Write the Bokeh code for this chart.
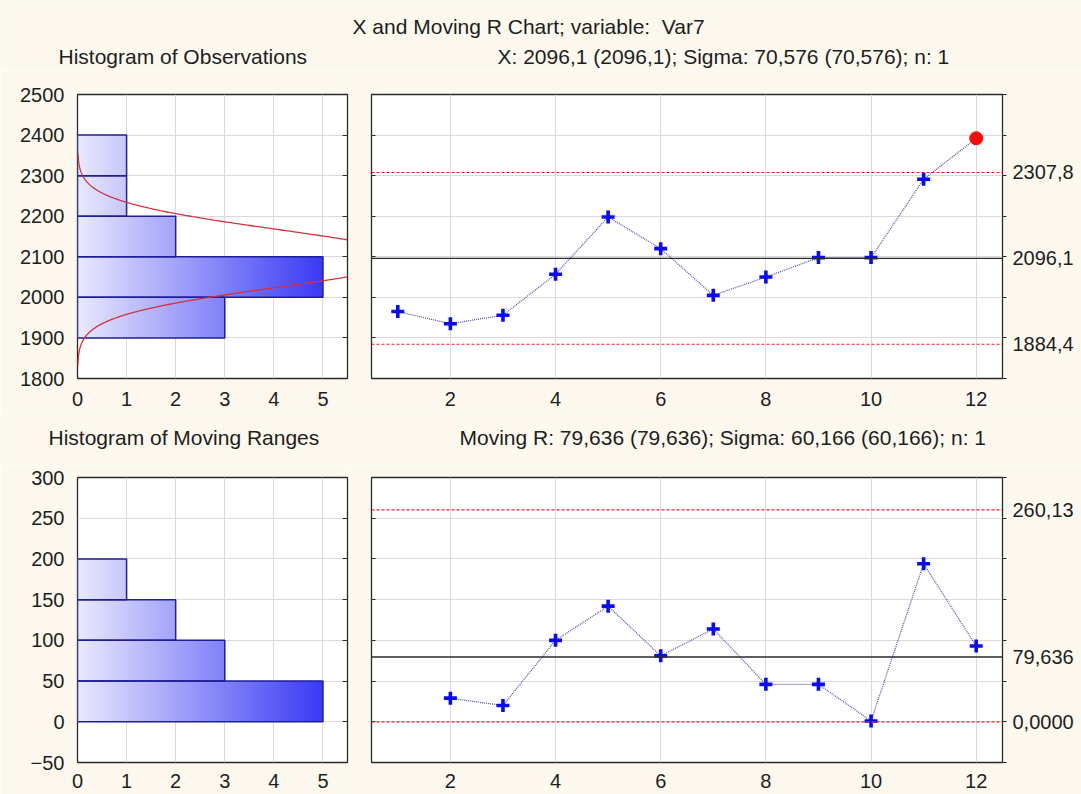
import math
from bokeh.plotting import figure
from bokeh.models import Range1d, FixedTicker, LinearAxis, Span, ColumnDataSource
from bokeh.layouts import column, row
from bokeh.core.properties import value
from bokeh.embed import file_html
from bokeh.resources import INLINE

# ---------------- data ----------------
main_title = "X and Moving R Chart; variable:  Var7"
obs_hist_title = "Histogram of Observations"
obs_chart_title = "X: 2096,1 (2096,1); Sigma: 70,576 (70,576); n: 1"
mr_hist_title = "Histogram of Moving Ranges"
mr_chart_title = "Moving R: 79,636 (79,636); Sigma: 60,166 (60,166); n: 1"

obs_index = [1, 2, 3, 4, 5, 6, 7, 8, 9, 10, 11, 12]
obs_values = [1965, 1935, 1956, 2057, 2198, 2120, 2005, 2050, 2098, 2098, 2291, 2392]

mr_index = [2, 3, 4, 5, 6, 7, 8, 9, 10, 11, 12]
mr_values = [29, 20, 100, 142, 81, 114, 46, 46, 1, 194, 93]

obs_bin_edges = [1900, 2000, 2100, 2200, 2300, 2400]
obs_bin_counts = [3, 5, 2, 1, 1]
mr_bin_edges = [0, 50, 100, 150, 200]
mr_bin_counts = [5, 3, 2, 1]

x_mean = 2096.1
x_sigma = 70.576
x_limits = [1884.4, 2096.1, 2307.8]          # LCL, CL, UCL
x_limit_labels = ["1884,4", "2096,1", "2307,8"]
mr_limits = [0.0, 79.636, 260.13]
mr_limit_labels = ["0,0000", "79,636", "260,13"]

obs_y_ticks = [1800, 1900, 2000, 2100, 2200, 2300, 2400, 2500]
mr_y_ticks = [-50, 0, 50, 100, 150, 200, 250, 300]
hist_x_ticks = [0, 1, 2, 3, 4, 5]
chart_x_ticks = [2, 4, 6, 8, 10, 12]

# ---------------- style ----------------
W = 1081
BG = "#fcf8ee"
FRAME = "#2a2a2a"
GRID = "#dadada"
TXT = "#1e1e1e"
FONT = "Liberation Sans"


def grad(x):
    t = max(0.0, min(x / 5.0, 1.0))
    c0 = (233, 233, 252)
    c1 = (58, 58, 245)
    r, g, b = [round(a + (b_ - a) * t) for a, b_ in zip(c0, c1)]
    return "#%02x%02x%02x" % (r, g, b)


def style_axis(ax, size="20px", standoff=8):
    ax.axis_line_color = None
    ax.minor_tick_line_color = None
    ax.major_label_text_font = FONT
    ax.major_label_text_font_size = size
    ax.major_label_text_color = TXT
    ax.major_label_standoff = standoff


def tick_axis(ticks, tick_in, tick_out):
    """An axis that only draws tick marks (no labels)."""
    return LinearAxis(ticker=FixedTicker(ticks=ticks), major_label_text_font_size="0px",
                      major_label_text_color=None, major_label_standoff=0,
                      major_tick_in=tick_in, major_tick_out=tick_out,
                      axis_line_color=None, minor_tick_line_color=None,
                      major_tick_line_color=FRAME)


def header(height, texts):
    """A strip of titles; coordinates are pixels inside the strip."""
    p = figure(width=W, height=height, x_range=Range1d(0, W), y_range=Range1d(height, 0),
               x_axis_location=None, y_axis_location=None, min_border=0,
               output_backend="svg", toolbar_location=None, title=None,
               background_fill_color=BG, border_fill_color=BG, outline_line_color=None)
    p.grid.visible = False
    for text, x, y in texts:
        p.text(x=[x], y=[y], text=[text.replace("  ", "\u00a0 ")],
               text_font=value(FONT), text_font_size=value("21px"), text_color=TXT,
               text_align="left", text_baseline="alphabetic")
    return p


def base_fig(fw, fh, xr, yr, left, right, top, bottom, y_axis=True):
    p = figure(frame_width=fw, frame_height=fh, x_range=Range1d(*xr), y_range=Range1d(*yr),
               min_border_left=left, min_border_right=right, min_border_top=top,
               min_border_bottom=bottom, output_backend="svg", toolbar_location=None,
               title=None, background_fill_color="white", border_fill_color=BG,
               outline_line_color=FRAME, outline_line_width=1.3,
               y_axis_location="left" if y_axis else None)
    p.grid.grid_line_color = GRID
    p.grid.grid_line_width = 1
    return p


def make_hist(edges, counts, yr, yticks, fh, top, bottom, standoff, curve=None):
    p = base_fig(270, fh, (0, 5.5), yr, 77, 2, top, bottom)
    p.xgrid.ticker = FixedTicker(ticks=hist_x_ticks[1:])
    p.ygrid.ticker = FixedTicker(ticks=yticks)

    # gradient-filled bars, drawn as thin slices
    step = 0.04
    L, R, B, T, C = [], [], [], [], []
    for i, c in enumerate(counts):
        n = int(round(c / step))
        for k in range(n):
            L.append(k * step)
            R.append(min((k + 1.6) * step, c))
            B.append(edges[i])
            T.append(edges[i + 1])
            C.append(grad((k + 0.5) * step))
    src = ColumnDataSource(dict(left=L, right=R, bottom=B, top=T, color=C))
    p.quad(left="left", right="right", bottom="bottom", top="top", fill_color="color",
           line_color=None, source=src)
    p.quad(left=[0] * len(counts), right=counts, bottom=edges[:-1], top=edges[1:],
           fill_color=None, line_color="#1e1e96", line_width=1.5)

    if curve is not None:
        cy, cx = curve
        p.line(cx, cy, line_color="#d2303e", line_width=1.3)

    ax = p.xaxis[0]
    ax.ticker = FixedTicker(ticks=hist_x_ticks)
    style_axis(ax, standoff=standoff)
    ax.major_tick_line_color = None
    ay = p.yaxis[0]
    ay.ticker = FixedTicker(ticks=yticks)
    style_axis(ay, standoff=7)
    ay.major_tick_line_color = None

    p.add_layout(tick_axis(yticks, 5, 0), "right")
    return p


def make_chart(xs, ys, limits, limit_labels, yr, yticks, fh, top, bottom, standoff):
    p = base_fig(631, fh, (0.5, 12.5), yr, 22, 79, top, bottom, y_axis=False)
    p.xgrid.ticker = FixedTicker(ticks=chart_x_ticks)
    p.ygrid.ticker = FixedTicker(ticks=yticks)

    lcl, cl, ucl = limits
    p.add_layout(Span(location=cl, dimension="width", line_color=FRAME, line_width=1.4))
    for v in (lcl, ucl):
        p.add_layout(Span(location=v, dimension="width", line_color="#e8202a",
                          line_width=1.2, line_dash="3 2"))

    p.line(xs, ys, line_color="#5656a8", line_width=1.3, line_dash="1 1")
    xin = [x for x, y in zip(xs, ys) if lcl <= y <= ucl]
    yin = [y for y in ys if lcl <= y <= ucl]
    xout = [x for x, y in zip(xs, ys) if not (lcl <= y <= ucl)]
    yout = [y for y in ys if not (lcl <= y <= ucl)]
    p.scatter(xin, yin, marker="cross", size=13, line_width=3.6, line_color="#0a0af5")
    if xout:
        p.scatter(xout, yout, marker="circle", size=13, fill_color="#ff0a0a",
                  line_color="#ff0a0a")

    ax = p.xaxis[0]
    ax.ticker = FixedTicker(ticks=chart_x_ticks)
    style_axis(ax, standoff=standoff)
    ax.major_tick_line_color = None

    # inner tick marks on the left, outer tick marks on the right
    p.add_layout(tick_axis(yticks, 4, 0), "left")
    p.add_layout(tick_axis(yticks, 0, 4), "right")

    # control-limit labels on the right
    rax = LinearAxis(ticker=FixedTicker(ticks=list(limits)),
                     major_label_overrides={v: s for v, s in zip(limits, limit_labels)})
    style_axis(rax, standoff=6)
    rax.major_tick_in = 0
    rax.major_tick_out = 0
    rax.major_tick_line_color = None
    p.add_layout(rax, "right")
    return p


# fitted normal curve for the observation histogram
n_obs = sum(obs_bin_counts)
bw = obs_bin_edges[1] - obs_bin_edges[0]
cy = [1830 + 1.5 * k for k in range(351)]
cx = [n_obs * bw / (x_sigma * math.sqrt(2 * math.pi)) *
      math.exp(-0.5 * ((y - x_mean) / x_sigma) ** 2) for y in cy]

head1 = header(70, [(main_title, 352, 26), (obs_hist_title, 58, 56),
                    (obs_chart_title, 497, 56)])
h1 = make_hist(obs_bin_edges, obs_bin_counts, (1800, 2500), obs_y_ticks, 284, 24, 37, 7,
               curve=(cy, cx))
c1 = make_chart(obs_index, obs_values, x_limits, x_limit_labels, (1800, 2500), obs_y_ticks,
                284, 24, 37, 7)

head2 = header(50, [(mr_hist_title, 48, 22), (mr_chart_title, 459, 22)])
h2 = make_hist(mr_bin_edges, mr_bin_counts, (-50, 300), mr_y_ticks, 285, 12, 32, 5)
c2 = make_chart(mr_index, mr_values, mr_limits, mr_limit_labels, (-50, 300), mr_y_ticks,
                285, 12, 32, 5)

layout = column(head1, row(h1, c1), head2, row(h2, c2))
open("out.html", "w").write(file_html(layout, INLINE))
